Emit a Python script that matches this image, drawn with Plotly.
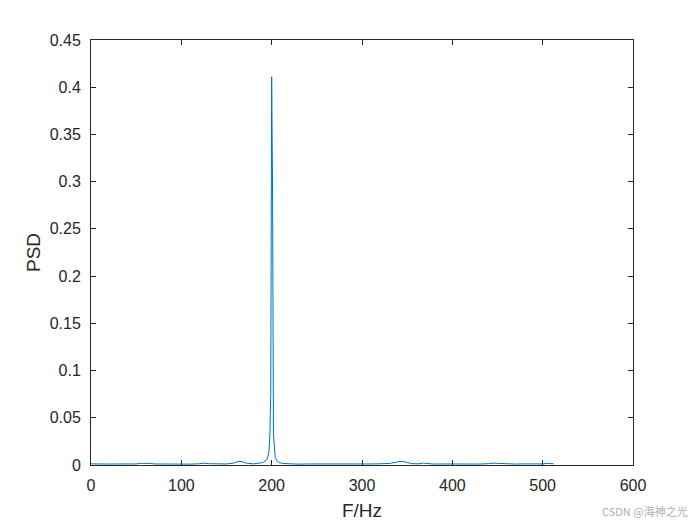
import plotly.graph_objects as go

freq = [0, 5, 10, 20, 30, 40, 50, 55, 60, 65, 70, 80, 90, 100, 110, 120, 125, 130, 140,
        150, 158, 163, 167, 172, 180, 186, 190, 193, 195, 196, 197, 198, 199, 200, 201,
        202, 203, 204, 206, 208, 212, 220, 230, 240, 250, 260, 270, 280, 290, 300, 310,
        320, 330, 338, 343, 348, 355, 362, 368, 372, 380, 390, 400, 410, 420, 430, 440,
        445, 450, 460, 470, 480, 490, 500, 505, 510, 512]
psd = [0.0012, 0.0010, 0.0009, 0.0010, 0.0011, 0.0009, 0.0011, 0.0018, 0.0021, 0.0017, 0.0011,
       0.0009, 0.0010, 0.0011, 0.0009, 0.0013, 0.0019, 0.0014, 0.0010,
       0.0011, 0.0020, 0.0038, 0.0036, 0.0019, 0.0012, 0.0016, 0.0025, 0.0040, 0.0065, 0.0095, 0.015, 0.032, 0.077, 0.411, 0.289,
       0.032, 0.014, 0.008, 0.0045, 0.0028, 0.0016, 0.0011, 0.0009, 0.0011, 0.0010, 0.0012, 0.0010, 0.0011, 0.0012, 0.0010, 0.0011,
       0.0013, 0.0016, 0.0030, 0.0040, 0.0031, 0.0015, 0.0012, 0.0020, 0.0016, 0.0010, 0.0011, 0.0010, 0.0009, 0.0011, 0.0010, 0.0014,
       0.0020, 0.0017, 0.0011, 0.0010, 0.0012, 0.0010, 0.0011, 0.0018, 0.0016, 0.0013]

x_ticks = [0, 100, 200, 300, 400, 500, 600]
y_ticks = [0, 0.05, 0.1, 0.15, 0.2, 0.25, 0.3, 0.35, 0.4, 0.45]
y_tick_labels = ["0", "0.05", "0.1", "0.15", "0.2", "0.25", "0.3", "0.35", "0.4", "0.45"]

fig = go.Figure()
fig.add_trace(go.Scatter(x=freq, y=psd, mode="lines",
                         line=dict(color="#0072BD", width=1), showlegend=False))

axis_common = dict(showline=True, linecolor="#262626", linewidth=1, mirror="ticks",
                   ticks="inside", ticklen=5, tickcolor="#262626", showgrid=False,
                   zeroline=False, automargin=False,
                   tickfont=dict(family="Liberation Sans, Arial", size=16, color="#262626"))
fig.update_layout(
    width=700, height=525,
    paper_bgcolor="white", plot_bgcolor="white",
    margin=dict(l=91, r=67, t=40, b=60),
    font=dict(family="Liberation Sans, Arial", size=16, color="#262626"),
    xaxis=dict(range=[0, 600], tickvals=x_ticks, ticklabelstandoff=6,
               title=dict(text="F/Hz", standoff=10), **axis_common),
    yaxis=dict(range=[0, 0.45], tickvals=y_ticks, ticktext=y_tick_labels, ticklabelstandoff=6,
               title=dict(text="PSD", standoff=4), **axis_common),
    annotations=[dict(text="CSDN @海神之光", xref="paper", yref="paper", x=1.0, y=0,
                      xanchor="right", yanchor="middle", xshift=57, yshift=-46, showarrow=False,
                      font=dict(family="Noto Sans CJK SC", size=11, color="#b0b0b0"))],
)
fig.write_html("out.html", config={"displayModeBar": False},
               post_script="document.body.style.margin='0';document.body.style.overflow='hidden';")
